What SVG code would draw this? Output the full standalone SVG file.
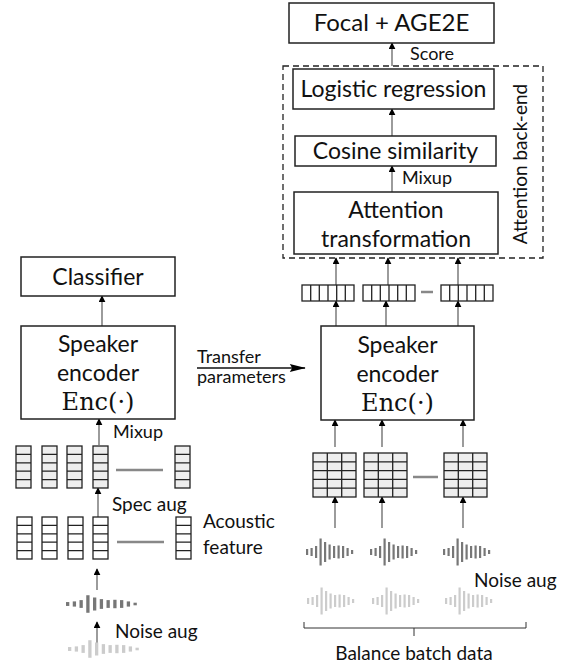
<svg xmlns="http://www.w3.org/2000/svg" xmlns:xlink="http://www.w3.org/1999/xlink" width="565" height="664" viewBox="0 0 565 664">
  <style>
    .box { fill: #fff; stroke: #222; stroke-width: 1.5; }
    .t { font-family: Lato, "Liberation Sans", sans-serif; fill: #111; }
    .big { font-size: 23px; }
    .mid { font-size: 19px; }
    .sm { font-size: 18px; }
    .math { font-family: "DejaVu Serif", "Liberation Serif", serif; font-size: 24px; fill: #111; }
    .arrow { stroke: #666; stroke-width: 1.3; fill: none; marker-end: url(#head); }
    .dash { stroke: #888; stroke-width: 2.5; }
    .cellg { fill: #eee; stroke: #222; stroke-width: 1.3; }
    .cellw { fill: #fff; stroke: #222; stroke-width: 1.3; }
    .wdark { fill: #777; }
    .wlight { fill: #ccc; }
  </style>
  <defs>
    <marker id="head" viewBox="0 0 10 10" refX="9" refY="5" markerWidth="7" markerHeight="7" markerUnits="userSpaceOnUse" orient="auto">
      <path d="M0,0 L10,5 L0,10 z" fill="#000"/>
    </marker>
    <marker id="longhead" viewBox="0 0 20 10" refX="19" refY="5" markerWidth="18" markerHeight="8" markerUnits="userSpaceOnUse" orient="auto">
      <path d="M0,0 L20,5 L0,10 L3,5 z" fill="#000"/>
    </marker>
    <!-- speech waveform: bars centred on y=0 -->
    <g id="wave">
      <rect x="0" y="-3" width="2.2" height="6"/>
      <rect x="4.5" y="-4" width="2.2" height="8"/>
      <rect x="9" y="-6" width="2.2" height="12"/>
      <rect x="13.5" y="-13.5" width="2.2" height="27"/>
      <rect x="18" y="-10" width="2.2" height="20"/>
      <rect x="22.5" y="-7.5" width="2.2" height="15"/>
      <rect x="27" y="-6" width="2.2" height="12"/>
      <rect x="31.5" y="-6.5" width="2.2" height="13"/>
      <rect x="36" y="-6" width="2.2" height="12"/>
      <rect x="40.5" y="-4" width="2.2" height="8"/>
      <rect x="45" y="-2" width="2.2" height="4"/>
    </g>
    <!-- single feature frame: 5 cells stacked -->
    <g id="frame">
      <rect x="0" y="0" width="15" height="42"/>
      <path d="M0,8.4 H15 M0,16.8 H15 M0,25.2 H15 M0,33.6 H15" fill="none"/>
    </g>
    <!-- spectrogram block: 3 x 5 cells -->
    <g id="spec">
      <rect x="0" y="0" width="43" height="44"/>
      <path d="M14.3,0 V44 M28.7,0 V44 M0,8.8 H43 M0,17.6 H43 M0,26.4 H43 M0,35.2 H43" fill="none"/>
    </g>
    <!-- embedding vector: 6 cells -->
    <g id="emb">
      <rect x="0" y="0" width="52" height="16"/>
      <path d="M8.7,0 V16 M17.3,0 V16 M26,0 V16 M34.7,0 V16 M43.3,0 V16" fill="none"/>
    </g>
  </defs>

  <!-- connectors -->
  <g id="connectors">
    <line class="arrow" x1="392" y1="66" x2="392" y2="43"/>
    <line class="arrow" x1="392" y1="136" x2="392" y2="109"/>
    <line class="arrow" x1="392" y1="192" x2="392" y2="166"/>
    <line class="arrow" x1="336" y1="285" x2="336" y2="258"/>
    <line class="arrow" x1="388" y1="285" x2="388" y2="258"/>
    <line class="arrow" x1="458" y1="285" x2="458" y2="258"/>
    <line class="arrow" x1="336" y1="326" x2="336" y2="301"/>
    <line class="arrow" x1="386" y1="326" x2="386" y2="301"/>
    <line class="arrow" x1="458" y1="326" x2="458" y2="301"/>
    <line class="arrow" x1="335" y1="447" x2="335" y2="420"/>
    <line class="arrow" x1="382" y1="447" x2="382" y2="420"/>
    <line class="arrow" x1="463" y1="447" x2="463" y2="420"/>
    <line class="arrow" x1="335" y1="528" x2="335" y2="497"/>
    <line class="arrow" x1="382" y1="528" x2="382" y2="497"/>
    <line class="arrow" x1="463" y1="528" x2="463" y2="497"/>
    <line class="arrow" x1="102" y1="326" x2="102" y2="296"/>
    <line class="arrow" x1="99" y1="445" x2="99" y2="419"/>
    <line class="arrow" x1="98" y1="517" x2="98" y2="488"/>
    <line class="arrow" x1="97" y1="590" x2="97" y2="569"/>
    <line class="arrow" x1="97" y1="648" x2="97" y2="622"/>
    <line x1="197" y1="368" x2="305" y2="368" stroke="#111" stroke-width="1.3" marker-end="url(#longhead)"/>
  </g>

  <g id="focal-age2e">
    <rect class="box" x="289" y="3" width="205" height="40"/>
    <text class="t big" x="391.5" y="31" text-anchor="middle" style="font-size:24px">Focal + AGE2E</text>
  </g>
  <text class="t sm" x="410" y="60">Score</text>

  <g id="attention-backend">
    <rect x="283" y="66" width="260" height="192" fill="none" stroke="#222" stroke-width="1.3" stroke-dasharray="6 4"/>
    <text class="t" transform="translate(527,164) rotate(-90)" text-anchor="middle" style="font-size:19px">Attention back-end</text>
  </g>

  <g id="logistic-regression">
    <rect class="box" x="293" y="69" width="201" height="40"/>
    <text class="t big" x="393.5" y="97" text-anchor="middle">Logistic regression</text>
  </g>

  <g id="cosine-similarity">
    <rect class="box" x="295" y="136" width="201" height="30"/>
    <text class="t big" x="395.5" y="159" text-anchor="middle">Cosine similarity</text>
  </g>
  <text class="t sm" x="402" y="184">Mixup</text>

  <g id="attention-transformation">
    <rect class="box" x="294" y="192" width="204" height="62"/>
    <text class="t big" x="396" y="218" text-anchor="middle">Attention</text>
    <text class="t big" x="396" y="247" text-anchor="middle">transformation</text>
  </g>

  <g id="embeddings" class="cellw">
    <use xlink:href="#emb" x="302" y="285"/>
    <use xlink:href="#emb" x="363" y="285"/>
    <use xlink:href="#emb" x="441" y="285"/>
    <line class="dash" x1="421" y1="292" x2="433" y2="292"/>
  </g>

  <g id="speaker-encoder-right">
    <rect class="box" x="321" y="326" width="153" height="94"/>
    <text class="t big" x="397.5" y="353" text-anchor="middle">Speaker</text>
    <text class="t big" x="397.5" y="382" text-anchor="middle">encoder</text>
    <text class="math" x="397.5" y="411" text-anchor="middle">Enc(·)</text>
  </g>

  <g id="transfer-label">
    <text class="t sm" x="197" y="363">Transfer</text>
    <text class="t sm" x="197" y="383">parameters</text>
  </g>

  <g id="spectrograms-right" class="cellg">
    <use xlink:href="#spec" x="313" y="453"/>
    <use xlink:href="#spec" x="364" y="453"/>
    <use xlink:href="#spec" x="444" y="453"/>
    <line class="dash" x1="413" y1="477" x2="438" y2="477"/>
  </g>

  <g id="waves-right">
    <use xlink:href="#wave" class="wdark" x="306" y="552"/>
    <use xlink:href="#wave" class="wdark" x="370" y="552"/>
    <use xlink:href="#wave" class="wdark" x="443" y="552"/>
    <use xlink:href="#wave" class="wlight" x="307" y="601"/>
    <use xlink:href="#wave" class="wlight" x="372" y="601"/>
    <use xlink:href="#wave" class="wlight" x="445" y="601"/>
  </g>
  <text class="t mid" x="474" y="587">Noise aug</text>

  <g id="balance-batch">
    <path d="M304,622 V628 H526 V622 M414,628 V636" fill="none" stroke="#333" stroke-width="1"/>
    <text class="t mid" x="414" y="660" text-anchor="middle">Balance batch data</text>
  </g>

  <g id="classifier">
    <rect class="box" x="21" y="257" width="154" height="39"/>
    <text class="t big" x="98" y="285" text-anchor="middle">Classifier</text>
  </g>

  <g id="speaker-encoder-left">
    <rect class="box" x="21" y="326" width="154" height="93"/>
    <text class="t big" x="98" y="352" text-anchor="middle">Speaker</text>
    <text class="t big" x="98" y="381" text-anchor="middle">encoder</text>
    <text class="math" x="98" y="410" text-anchor="middle">Enc(·)</text>
  </g>
  <text class="t sm" x="113" y="438">Mixup</text>

  <g id="augmented-features" class="cellg">
    <use xlink:href="#frame" x="16" y="446"/>
    <use xlink:href="#frame" x="42" y="446"/>
    <use xlink:href="#frame" x="67" y="446"/>
    <use xlink:href="#frame" x="93" y="446"/>
    <use xlink:href="#frame" x="175" y="446"/>
    <line class="dash" x1="116" y1="470" x2="163" y2="470"/>
  </g>
  <text class="t mid" x="112" y="511">Spec aug</text>

  <g id="acoustic-features" class="cellw">
    <use xlink:href="#frame" x="17" y="517"/>
    <use xlink:href="#frame" x="42" y="517"/>
    <use xlink:href="#frame" x="68" y="517"/>
    <use xlink:href="#frame" x="93" y="517"/>
    <use xlink:href="#frame" x="176" y="517"/>
    <line class="dash" x1="117" y1="542" x2="164" y2="542"/>
  </g>
  <text class="t mid" x="203" y="528">Acoustic</text>
  <text class="t mid" x="203" y="554">feature</text>

  <g id="waves-left">
    <use xlink:href="#wave" class="wdark" transform="translate(66,604) scale(1.5,0.65)"/>
    <use xlink:href="#wave" class="wlight" transform="translate(68,649) scale(1.5,0.65)"/>
  </g>
  <text class="t mid" x="115" y="638">Noise aug</text>
</svg>
